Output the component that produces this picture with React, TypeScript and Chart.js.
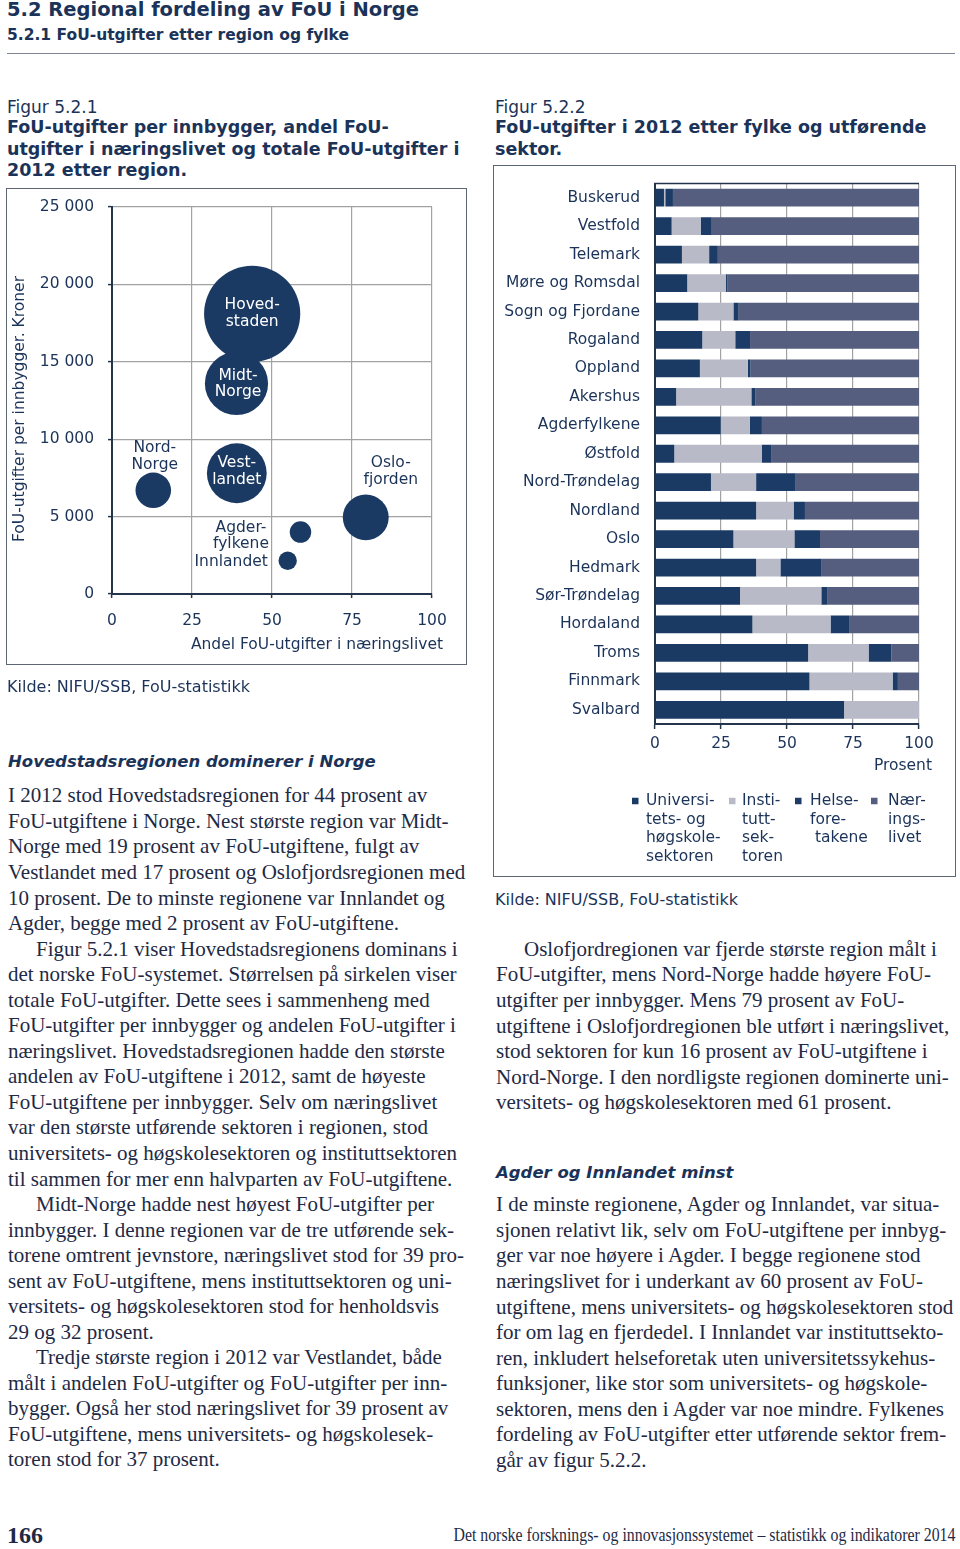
import React, { useEffect, useRef } from "react";
import { Chart, registerables } from "chart.js";

Chart.register(...registerables);

// ---------------- Figur 5.2.1 data ----------------
const regions = ["Hovedstaden", "Midt-Norge", "Vestlandet", "Nord-Norge", "Oslofjorden", "Agderfylkene", "Innlandet"];
const regionLabelLines = [
  ["Hoved-", "staden"],
  ["Midt-", "Norge"],
  ["Vest-", "landet"],
  ["Nord-", "Norge"],
  ["Oslo-", "fjorden"],
  ["Agder-", "fylkene"],
  ["Innlandet"],
];
// Andel FoU-utgifter i næringslivet (prosent)
const businessShare = [43.8, 38.9, 39.0, 12.9, 79.3, 58.9, 54.9];
// FoU-utgifter per innbygger (kroner)
const perCapita = [18100, 13600, 7800, 6700, 4950, 4000, 2150];
// Andel av totale FoU-utgifter (prosent) -> bubble area
const totalShare = [44, 19, 17, 6, 10, 2.2, 1.6];
const bubbleXTicks = [0, 25, 50, 75, 100];
const bubbleYTicks = [0, 5000, 10000, 15000, 20000, 25000];

// ---------------- Figur 5.2.2 data ----------------
const counties = [
  "Buskerud", "Vestfold", "Telemark", "Møre og Romsdal", "Sogn og Fjordane", "Rogaland", "Oppland",
  "Akershus", "Agderfylkene", "Østfold", "Nord-Trøndelag", "Nordland", "Oslo", "Hedmark",
  "Sør-Trøndelag", "Hordaland", "Troms", "Finnmark", "Svalbard",
];
const uhSector = [3.4, 6.3, 10.2, 12.2, 16.4, 17.9, 17.0, 8.0, 24.9, 7.3, 21.2, 38.3, 29.7, 38.3, 32.2, 36.9, 58.0, 58.5, 71.6];
const instituteSector = [0.5, 11.0, 10.3, 14.7, 13.3, 12.5, 18.2, 28.5, 11.0, 33.1, 17.1, 14.2, 23.1, 9.2, 30.8, 29.6, 22.9, 31.5, 28.4];
const healthTrusts = [2.9, 4.2, 3.3, 0.6, 2.0, 5.6, 1.0, 1.6, 4.6, 3.8, 15.0, 4.3, 9.7, 15.4, 2.4, 7.0, 8.6, 2.0, 0];
const businessSector = [93.2, 78.5, 76.3, 72.5, 68.3, 64.0, 63.8, 61.9, 59.5, 55.8, 46.7, 43.2, 37.5, 37.1, 34.6, 26.5, 10.5, 8.0, 0];
const sectorNames = ["Universitets- og høgskolesektoren", "Instituttsektoren", "Helseforetakene", "Næringslivet"];
const sectorLegendLines = [
  ["Universi-", "tets- og", "høgskole-", "sektoren"],
  ["Insti-", "tutt-", "sek-", "toren"],
  ["Helse-", "fore-", " takene"],
  ["Nær-", "ings-", "livet"],
];
const barXTicks = [0, 25, 50, 75, 100];

// ---------------- styles ----------------
const SANS = '"DejaVu Sans", Verdana, sans-serif';
const SERIF = '"Liberation Serif", "Times New Roman", serif';
const NAVY = "#1b3a63";
const TXT = "#1b3358";
const BODY = "#1e2a45";
const GRID = "#a2a2a2";
const AXIS = "#25344d";
const BOX = "#5d6673";
const SECTOR_COLORS = ["#1b3a63", "#b8bac8", "#1c3b66", "#565e80"];
const CHART_FONT = 15.5;

function fmtThousands(v: number) {
  return String(v).replace(/\B(?=(\d{3})+(?!\d))/g, " ");
}

function zeroPad(s: any) {
  s.paddingTop = 0;
  s.paddingBottom = 0;
  s.paddingLeft = 0;
  s.paddingRight = 0;
}

// label placement (style only)
const bubbleLabelStyle = [
  { inside: true, dx: 0, dy: -0.5 },
  { inside: true, dx: 1.5, dy: 0.7 },
  { inside: true, dx: 0, dy: -2 },
  { inside: false, dx: 1.5, dy: -34 },
  { inside: false, dx: 25, dy: -46 },
  { inside: false, dx: -59.5, dy: 4 },
  { inside: false, dx: -56.5, dy: 1 },
];

function BubbleChart() {
  const ref = useRef<HTMLCanvasElement>(null);
  useEffect(() => {
    const labelsPlugin = {
      id: "bubbleLabels",
      afterDatasetsDraw(chart: any) {
        const ctx = chart.ctx as CanvasRenderingContext2D;
        const meta = chart.getDatasetMeta(0);
        ctx.save();
        ctx.font = `${CHART_FONT}px ${SANS}`;
        ctx.textAlign = "center";
        ctx.textBaseline = "middle";
        meta.data.forEach((el: any, i: number) => {
          const st = bubbleLabelStyle[i];
          const lines = regionLabelLines[i];
          const lh = 16.5;
          ctx.fillStyle = st.inside ? "#ffffff" : TXT;
          lines.forEach((t, j) => {
            ctx.fillText(t, el.x + st.dx, el.y + st.dy + (j - (lines.length - 1) / 2) * lh);
          });
        });
        // axis titles
        ctx.fillStyle = TXT;
        ctx.textAlign = "right";
        ctx.fillText("Andel FoU-utgifter i næringslivet", 436, 457);
        ctx.translate(13, 221);
        ctx.rotate(-Math.PI / 2);
        ctx.textAlign = "center";
        ctx.fillText("FoU-utgifter per innbygger. Kroner", 0, 0);
        ctx.restore();
      },
    };
    const chart = new Chart(ref.current as HTMLCanvasElement, {
      type: "bubble",
      data: {
        datasets: [
          {
            label: "Regioner",
            data: regions.map((_, i) => ({ x: businessShare[i], y: perCapita[i], r: 7.25 * Math.sqrt(totalShare[i]) })),
            backgroundColor: NAVY,
            borderWidth: 0,
            hoverRadius: 0,
            hoverBorderWidth: 0,
          } as any,
        ],
      },
      options: {
        responsive: false,
        animation: false,
        events: [],
        layout: { autoPadding: false, padding: { left: 0, right: 35, top: 19, bottom: 0 } },
        plugins: { legend: { display: false }, tooltip: { enabled: false } },
        scales: {
          x: {
            type: "linear",
            min: 0,
            max: 100,
            afterBuildTicks: (s: any) => {
              s.ticks = bubbleXTicks.map((v) => ({ value: v }));
            },
            afterFit: (s: any) => {
              s.height = 72;
              zeroPad(s);
            },
            ticks: { color: TXT, font: { family: SANS, size: CHART_FONT }, padding: 14, maxRotation: 0, autoSkip: false, callback: (v: any) => String(v) },
            grid: { color: GRID, lineWidth: 1.2, tickColor: AXIS, tickLength: 4, tickWidth: 1.5 },
            border: { color: AXIS, width: 2 },
          },
          y: {
            type: "linear",
            min: 0,
            max: 25000,
            afterBuildTicks: (s: any) => {
              s.ticks = bubbleYTicks.map((v) => ({ value: v }));
            },
            afterFit: (s: any) => {
              s.width = 105;
              zeroPad(s);
            },
            ticks: { color: TXT, font: { family: SANS, size: CHART_FONT }, padding: 14, autoSkip: false, callback: (v: any) => fmtThousands(Number(v)) },
            grid: { color: GRID, lineWidth: 1.2, tickColor: AXIS, tickLength: 4, tickWidth: 1.5 },
            border: { color: AXIS, width: 2 },
          },
        },
      } as any,
      plugins: [labelsPlugin],
    });
    return () => chart.destroy();
  }, []);
  return <canvas ref={ref} width={460} height={478} style={{ position: "absolute", left: 7, top: 188 }} />;
}

const legendLayout = { markerX: [139, 236, 302, 378], textX: [153, 249, 317, 395], firstY: 636, lineH: 18.7, size: 6.5 };

function BarChart() {
  const ref = useRef<HTMLCanvasElement>(null);
  useEffect(() => {
    const extras = {
      id: "barExtras",
      afterDraw(chart: any) {
        const ctx = chart.ctx as CanvasRenderingContext2D;
        const a = chart.chartArea;
        ctx.save();
        ctx.strokeStyle = AXIS;
        ctx.lineWidth = 1.5;
        ctx.beginPath();
        ctx.moveTo(a.left - 1, a.top);
        ctx.lineTo(a.right, a.top);
        ctx.stroke();
        ctx.font = `${CHART_FONT}px ${SANS}`;
        ctx.fillStyle = TXT;
        ctx.textAlign = "right";
        ctx.textBaseline = "middle";
        ctx.fillText("Prosent", 439, 601);
        ctx.textAlign = "left";
        chart.data.datasets.forEach((ds: any, i: number) => {
          const s = legendLayout.size;
          ctx.fillStyle = ds.backgroundColor;
          ctx.fillRect(legendLayout.markerX[i], legendLayout.firstY - s / 2, s, s);
          ctx.fillStyle = TXT;
          sectorLegendLines[i].forEach((t, j) => {
            ctx.fillText(t, legendLayout.textX[i], legendLayout.firstY + j * legendLayout.lineH);
          });
        });
        ctx.restore();
      },
    };
    const series = [uhSector, instituteSector, healthTrusts, businessSector];
    const chart = new Chart(ref.current as HTMLCanvasElement, {
      type: "bar",
      data: {
        labels: counties,
        datasets: series.map((d, i) => ({
          label: sectorNames[i],
          data: d,
          backgroundColor: SECTOR_COLORS[i],
          borderWidth: 0,
          categoryPercentage: 0.8,
          barPercentage: 0.78,
        })),
      },
      options: {
        indexAxis: "y",
        responsive: false,
        animation: false,
        events: [],
        layout: { autoPadding: false, padding: { left: 0, right: 36, top: 18.5, bottom: 0 } },
        plugins: { legend: { display: false }, tooltip: { enabled: false } },
        scales: {
          x: {
            type: "linear",
            stacked: true,
            min: 0,
            max: 100,
            afterBuildTicks: (s: any) => {
              s.ticks = barXTicks.map((v) => ({ value: v }));
            },
            afterFit: (s: any) => {
              s.height = 153;
              zeroPad(s);
            },
            ticks: { color: TXT, font: { family: SANS, size: CHART_FONT }, padding: 5.5, maxRotation: 0, autoSkip: false, callback: (v: any) => String(v) },
            grid: { color: GRID, lineWidth: 1.2, tickColor: AXIS, tickLength: 5, tickWidth: 1.5 },
            border: { color: AXIS, width: 2 },
          },
          y: {
            stacked: true,
            afterFit: (s: any) => {
              s.width = 162;
              zeroPad(s);
            },
            ticks: { color: TXT, font: { family: SANS, size: CHART_FONT }, padding: 15, autoSkip: false },
            grid: { display: false, drawTicks: false },
            border: { display: true, color: AXIS, width: 2 },
          },
        },
      } as any,
      plugins: [extras],
    });
    return () => chart.destroy();
  }, []);
  return <canvas ref={ref} width={462} height={712} style={{ position: "absolute", left: 493, top: 165 }} />;
}

type TxtProps = {
  x: number;
  base: number;
  size: number;
  serif?: boolean;
  bold?: boolean;
  italic?: boolean;
  color?: string;
  right?: boolean;
  scaleX?: number;
  children: React.ReactNode;
};

function Txt({ x, base, size, serif, bold, italic, color, right, scaleX, children }: TxtProps) {
  const asc = serif ? 0.891 : 0.928;
  const desc = serif ? 0.216 : 0.236;
  const lh = Math.round(size * 1.3);
  const top = base - ((lh - (asc + desc) * size) / 2 + asc * size);
  const style: React.CSSProperties = {
    position: "absolute",
    top,
    whiteSpace: "pre",
    lineHeight: lh + "px",
    fontSize: size,
    fontFamily: serif ? SERIF : SANS,
    fontWeight: bold ? 700 : 400,
    fontStyle: italic ? "italic" : "normal",
    color: color ?? TXT,
  };
  if (right) {
    style.right = 960 - x;
    style.transformOrigin = "right center";
  } else {
    style.left = x;
    style.transformOrigin = "left center";
  }
  if (scaleX) style.transform = `scaleX(${scaleX})`;
  return <div style={style}>{children}</div>;
}

const leftBody: [string, number][] = [
  ["I 2012 stod Hovedstadsregionen for 44 prosent av", 0],
  ["FoU-utgiftene i Norge. Nest største region var Midt-", 0],
  ["Norge med 19 prosent av FoU-utgiftene, fulgt av", 0],
  ["Vestlandet med 17 prosent og Oslofjordsregionen med", 0],
  ["10 prosent. De to minste regionene var Innlandet og", 0],
  ["Agder, begge med 2 prosent av FoU-utgiftene.", 0],
  ["Figur 5.2.1 viser Hovedstadsregionens dominans i", 1],
  ["det norske FoU-systemet. Størrelsen på sirkelen viser", 0],
  ["totale FoU-utgifter. Dette sees i sammenheng med", 0],
  ["FoU-utgifter per innbygger og andelen FoU-utgifter i", 0],
  ["næringslivet. Hovedstadsregionen hadde den største", 0],
  ["andelen av FoU-utgiftene i 2012, samt de høyeste", 0],
  ["FoU-utgiftene per innbygger. Selv om næringslivet", 0],
  ["var den største utførende sektoren i regionen, stod", 0],
  ["universitets- og høgskolesektoren og instituttsektoren", 0],
  ["til sammen for mer enn halvparten av FoU-utgiftene.", 0],
  ["Midt-Norge hadde nest høyest FoU-utgifter per", 1],
  ["innbygger. I denne regionen var de tre utførende sek-", 0],
  ["torene omtrent jevnstore, næringslivet stod for 39 pro-", 0],
  ["sent av FoU-utgiftene, mens instituttsektoren og uni-", 0],
  ["versitets- og høgskolesektoren stod for henholdsvis", 0],
  ["29 og 32 prosent.", 0],
  ["Tredje største region i 2012 var Vestlandet, både", 1],
  ["målt i andelen FoU-utgifter og FoU-utgifter per inn-", 0],
  ["bygger. Også her stod næringslivet for 39 prosent av", 0],
  ["FoU-utgiftene, mens universitets- og høgskolesek-", 0],
  ["toren stod for 37 prosent.", 0],
];

const rightBody1: [string, number][] = [
  ["Oslofjordregionen var fjerde største region målt i", 1],
  ["FoU-utgifter, mens Nord-Norge hadde høyere FoU-", 0],
  ["utgifter per innbygger. Mens 79 prosent av FoU-", 0],
  ["utgiftene i Oslofjordregionen ble utført i næringslivet,", 0],
  ["stod sektoren for kun 16 prosent av FoU-utgiftene i", 0],
  ["Nord-Norge. I den nordligste regionen dominerte uni-", 0],
  ["versitets- og høgskolesektoren med 61 prosent.", 0],
];

const rightBody2: [string, number][] = [
  ["I de minste regionene, Agder og Innlandet, var situa-", 0],
  ["sjonen relativt lik, selv om FoU-utgiftene per innbyg-", 0],
  ["ger var noe høyere i Agder. I begge regionene stod", 0],
  ["næringslivet for i underkant av 60 prosent av FoU-", 0],
  ["utgiftene, mens universitets- og høgskolesektoren stod", 0],
  ["for om lag en fjerdedel. I Innlandet var instituttsekto-", 0],
  ["ren, inkludert helseforetak uten universitetssykehus-", 0],
  ["funksjoner, like stor som universitets- og høgskole-", 0],
  ["sektoren, mens den i Agder var noe mindre. Fylkenes", 0],
  ["fordeling av FoU-utgifter etter utførende sektor frem-", 0],
  ["går av figur 5.2.2.", 0],
];

const BODY_SIZE = 21;
const BODY_LH = 25.54;

function BodyLines({ lines, x, firstBase }: { lines: [string, number][]; x: number; firstBase: number }) {
  return (
    <>
      {lines.map(([t, ind], i) => (
        <Txt key={i} x={x + ind * 28} base={firstBase + i * BODY_LH} size={BODY_SIZE} serif color={BODY}>
          {t}
        </Txt>
      ))}
    </>
  );
}

export default function App() {
  return (
    <div
      style={{
        position: "absolute",
        left: 0,
        top: 0,
        width: 960,
        height: 1549,
        background: "#ffffff",
        overflow: "hidden",
      }}
    >
      <Txt x={7} base={16} size={19.5} bold>
        5.2 Regional fordeling av FoU i Norge
      </Txt>
      <Txt x={7} base={40} size={15.5} bold>
        5.2.1 FoU-utgifter etter region og fylke
      </Txt>
      <div style={{ position: "absolute", left: 7, top: 52.5, width: 948, height: 1.5, background: "#7d8593" }} />

      {/* Figure 5.2.1 header */}
      <Txt x={7} base={112.5} size={17}>
        Figur 5.2.1
      </Txt>
      <Txt x={7} base={134} size={17.5} bold>
        FoU-utgifter per innbygger, andel FoU-
      </Txt>
      <Txt x={7} base={155.5} size={17.5} bold>
        utgifter i næringslivet og totale FoU-utgifter i
      </Txt>
      <Txt x={7} base={177} size={17.5} bold>
        2012 etter region.
      </Txt>

      {/* Figure 5.2.2 header */}
      <Txt x={495} base={112.5} size={17}>
        Figur 5.2.2
      </Txt>
      <Txt x={495} base={134} size={17.5} bold>
        FoU-utgifter i 2012 etter fylke og utførende
      </Txt>
      <Txt x={495} base={155.5} size={17.5} bold>
        sektor.
      </Txt>

      <BubbleChart />
      <div
        style={{
          position: "absolute",
          left: 6,
          top: 188,
          width: 461,
          height: 477,
          boxSizing: "border-box",
          border: `1.5px solid ${BOX}`,
        }}
      />
      <Txt x={7} base={692} size={16}>
        Kilde: NIFU/SSB, FoU-statistikk
      </Txt>

      <BarChart />
      <div
        style={{
          position: "absolute",
          left: 493,
          top: 165,
          width: 463,
          height: 712,
          boxSizing: "border-box",
          border: `1.5px solid ${BOX}`,
        }}
      />
      <Txt x={495} base={905} size={16}>
        Kilde: NIFU/SSB, FoU-statistikk
      </Txt>

      {/* Left column text */}
      <Txt x={8} base={767} size={16.5} bold italic>
        Hovedstadsregionen dominerer i Norge
      </Txt>
      <BodyLines lines={leftBody} x={8} firstBase={803} />

      {/* Right column text */}
      <BodyLines lines={rightBody1} x={496} firstBase={956.5} />
      <Txt x={496} base={1178} size={16.5} bold italic>
        Agder og Innlandet minst
      </Txt>
      <BodyLines lines={rightBody2} x={496} firstBase={1212} />

      {/* Footer */}
      <Txt x={7} base={1544} size={24} serif bold color={BODY}>
        166
      </Txt>
      <Txt x={955} base={1542} size={18} serif right scaleX={0.88} color={BODY}>
        Det norske forsknings- og innovasjonssystemet – statistikk og indikatorer 2014
      </Txt>
    </div>
  );
}
